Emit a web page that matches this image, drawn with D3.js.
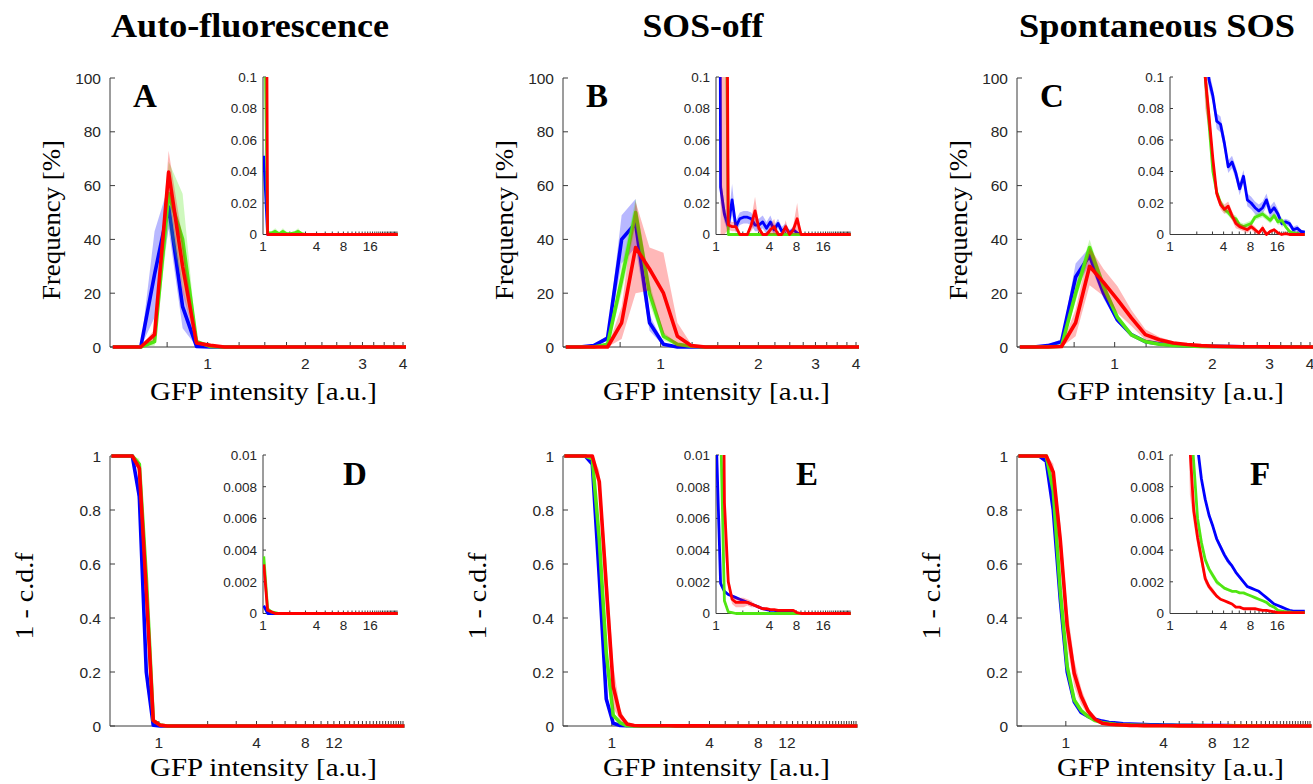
<!DOCTYPE html>
<html><head><meta charset="utf-8">
<script src="https://cdn.jsdelivr.net/npm/d3@7"></script>
<style>body{margin:0;background:#fff}</style>
</head><body>
<script>
// ---------------- DATA ----------------
const bins = [0.510,0.563,0.622,0.686,0.758,0.837,0.924,1.020,1.126,1.243,1.373,1.516,1.673,1.848,2.040,2.252,2.486,2.745,3.031,3.347,3.695,4.080,4.505,4.973,5.491,6.062,6.693,7.390,8.160,9.010,9.950,10.98,12.12,13.39,14.78,16.32,18.02,19.89,21.96,24.25,26.78,29.56,32.64];

const colTitles = ["Auto-fluorescence","SOS-off","Spontaneous SOS"];
const panelLetters = ["A","B","C","D","E","F"];
const seriesColors = ["#0000ff","#50e612","#ff0000"];

const topYTicks = [0,20,40,60,80,100];
const topYLabels = ["0","20","40","60","80","100"];
const topXTicks = [0.75,1,1.25,1.5,1.75,2,2.25,2.5,2.75,3,3.25,3.5,3.75,4];
const topXLabels = [1,2,3,4];
const botYTicks = [0,0.2,0.4,0.6,0.8,1];
const botYLabels = ["0","0.2","0.4","0.6","0.8","1"];
const botXLabels = [1,4,8,12];
const insetXLabels = [1,4,8,16];
const topInsetYTicks = [0,0.02,0.04,0.06,0.08,0.1];
const topInsetYLabels = ["0","0.02","0.04","0.06","0.08","0.1"];
const botInsetYTicks = [0,0.002,0.004,0.006,0.008,0.01];
const botInsetYLabels = ["0","0.002","0.004","0.006","0.008","0.01"];

// Panel A: frequency [%], auto-fluorescence
const aBlue = [0,0,0,27,52,15,0.25,0.05,0];
const aBlueErr = [0,0,0,16,8,8,0.1,0.01];
const aGreen = [0,0,0,2,57,40,2,0.2,0.001,0.001,0.002,0.0005,0.002,0.0005,0.0005,0.001,0.002,0.0005];
const aGreenErr = [0,0,0,1.5,12,17,1,0.1,0.001,0.001,0.002,0.001,0.002,0.001,0.001,0.001,0.002];
const aRed = [0,0,0,4.6,65,30,1.5,0.6];
const aRedErr = [0,0,0,2,8,10,0.5,0.2];

// Panel B: SOS-off
const bBlue = [0,0,0.5,3.3,40,46,9,1,0.03,0.013,0.005,0.022,0.005,0.01,0.011,0.011,0.01,0.006,0.006,0.008,0.004,0.008,0.003,0.007,0.002,0.004,0.001,0.003,0.001];
const bBlueErr = [0,0,0.3,1,9,9,3,0.5,0.01,0.005,0.004,0.01,0.004,0.004,0.004,0.004,0.004,0.004,0.004,0.004,0.004,0.004,0.003,0.003,0.003,0.003,0.002,0.002,0.001];
const bGreen = [0,0,0,1,25,50,20,4,1,0.3,0];
const bGreenErr = [0,0,0,0.5,5,5,4,1.5,0.5,0.1];
const bRed = [0,0,0,0,9,37,29,20,4,0.5,0.006,0.005,0.005,0,0,0,0.006,0.015,0.004,0,0,0.003,0.005,0,0,0.005,0,0.003,0.01,0];
const bRedErr = [0,0,0,0,6,17,8,15,5,0.5,0.003,0.003,0.003,0,0,0,0.004,0.009,0.003,0,0,0.003,0.005,0,0,0.004,0,0.003,0.01,0];

// Panel C: spontaneous SOS
const cBlue = [0,0,0.5,2,26,34,20,10,4.6,2,1.2,0.7,0.45,0.3,0.22,0.16,0.12,0.098,0.088,0.072,0.07,0.058,0.043,0.046,0.039,0.029,0.037,0.022,0.02,0.017,0.015,0.017,0.022,0.014,0.017,0.013,0.007,0.008,0.007,0.003,0.004,0.002,0.0015];
const cBlueErr = [0,0,0.3,1,5,3,2,1,0.5,0.3,0.2,0.1,0.05,0.03,0.02,0.01,0.008,0.006,0.005,0.005,0.005,0.005,0.004,0.004,0.004,0.004,0.004,0.004,0.004,0.004,0.004,0.004,0.004,0.004,0.004,0.003,0.002,0.002,0.002,0.002,0.002,0.001,0.001];
const cGreen = [0,0,0,0.3,20,37,22.5,11,4.5,2,1,0.6,0.4,0.25,0.17,0.12,0.1,0.07,0.04,0.027,0.02,0.016,0.014,0.011,0.01,0.006,0.005,0.006,0.007,0.011,0.012,0.013,0.011,0.009,0.012,0.008,0.009,0.005,0.002,0.001,0.0005,0,0];
const cGreenErr = [0,0,0,0.3,3,3,2,1,0.5,0.3,0.2,0.1,0.05,0.03,0.02,0.01,0.005,0.003,0.002,0.002,0.002,0.002,0.002,0.002,0.002,0.002,0.002,0.002,0.002,0.002,0.002,0.002,0.002,0.002,0.002,0.002,0.002,0.001,0.001];
const cRed = [0,0,0,0.2,9,30,24,17.6,10.8,4.6,2.7,1.5,0.9,0.5,0.3,0.18,0.1,0.075,0.048,0.026,0.019,0.016,0.018,0.012,0.007,0.005,0.004,0.003,0.005,0.003,0.001,0.004,0,0.002,0.003,0.001,0,0.0005];
const cRedErr = [0,0,0,0.2,5,7,5,5,3,2,1,0.6,0.3,0.15,0.08,0.04,0.02,0.01,0.005,0.003,0.003,0.003,0.003,0.003,0.003,0.002,0.002,0.002,0.002,0.002,0.001,0.002,0.001,0.001,0.001];

// Panel D: 1 - c.d.f, auto-fluorescence
const dBlue = [1,1,1,1,0.85,0.2,0.003,0.0005,0];
const dBlueErr = [0,0,0,0,0.05,0.05,0.002];
const dGreen = [1,1,1,1,0.97,0.55,0.02,0.0036,0.0003,0.0001,0.00005];
const dGreenErr = [0,0,0,0,0.02,0.03,0.01,0.0003];
const dRed = [1,1,1,1,0.955,0.5,0.02,0.0031,0.0002,0.0001];
const dRedErr = [0,0,0,0,0.02,0.03,0.01,0.0002];

// Panel E: 1 - c.d.f, SOS-off
const eBlue = [1,1,1,1,0.97,0.55,0.1,0.01,0.0019,0.0014,0.0012,0.0011,0.001,0.0009,0.0008,0.0007,0.0006,0.0005,0.0004,0.0003,0.00025,0.0002,0.0002,0.00015,0.0001,0.0001,0.0001,0.00005];
const eBlueErr = [0,0,0,0,0.01,0.03,0.02,0.003,0.0002,0.0001,0.0001,0.0001,0.0001];
const eGreen = [1,1,1,1,0.99,0.69,0.27,0.04,0.012,0.0008,0.0001,0.00005];
const eGreenErr = [0,0,0,0,0.005,0.03,0.03,0.01,0.003,0.0002];
const eRed = [1,1,1,1,1,0.905,0.52,0.146,0.04,0.007,0.002,0.0009,0.0007,0.0007,0.0007,0.0007,0.0006,0.0005,0.0004,0.0003,0.0003,0.00025,0.00025,0.0002,0.0002,0.0002,0.0002,0.0002,0.00005];
const eRedErr = [0,0,0,0,0.005,0.04,0.1,0.08,0.02,0.003,0.0004,0.0003,0.0003,0.0003,0.0003,0.0002,0.0002,0.0001,0.0001];

// Panel F: 1 - c.d.f, spontaneous SOS
const fBlue = [1,1,1,1,0.98,0.8,0.47,0.2,0.09,0.05,0.035,0.025,0.018,0.013,0.0105,0.0085,0.0072,0.0062,0.0055,0.0047,0.0042,0.0037,0.0033,0.003,0.0026,0.0023,0.002,0.0017,0.0016,0.0015,0.0014,0.0012,0.001,0.0008,0.0006,0.0005,0.0004,0.0003,0.0002,0.00015,0.00015,0.00015,0.00015];
const fBlueErr = [0,0,0,0,0.01,0.03,0.03,0.02,0.01,0.005,0.003,0.002,0.001,0.0006,0.0004,0.0003,0.0002,0.0002,0.0002,0.0002,0.0002,0.0002,0.0002,0.0001,0.0001,0.0001,0.0001,0.0001];
const fGreen = [1,1,1,1,1,0.87,0.5,0.22,0.096,0.057,0.035,0.02,0.013,0.0095,0.006,0.0045,0.0034,0.0028,0.0024,0.002,0.0018,0.0016,0.0015,0.0014,0.0014,0.0013,0.0013,0.0012,0.0011,0.001,0.0009,0.0008,0.0007,0.0005,0.0004,0.0002,0.00015,0.0001,0.0001,0.00005,0.00005,0.00005,0.00005];
const fGreenErr = [0,0,0,0,0.005,0.03,0.03,0.02,0.01,0.005,0.003,0.002,0.001,0.0005,0.0004,0.0003,0.0002,0.0002,0.0002,0.0002,0.0001,0.0001,0.0001,0.0001];
const fRed = [1,1,1,1,1,0.94,0.69,0.37,0.195,0.11,0.055,0.025,0.0105,0.0065,0.0048,0.0035,0.0022,0.0017,0.0014,0.0011,0.0009,0.0008,0.0007,0.0006,0.0004,0.0004,0.0003,0.0003,0.0003,0.0003,0.00025,0.0002,0.0002,0.00015,0.0001,0.00005,0.00005,0.00005,0.00005,0.00005,0.00005,0.00005,0.00005];
const fRedErr = [0,0,0,0,0.005,0.03,0.06,0.07,0.05,0.03,0.015,0.006,0.003,0.0008,0.0006,0.0005,0.0003,0.0002,0.0002,0.0001];

// ---------------- LAYOUT ----------------
const W = 1313, H = 784;
const colX = [110, 563, 1017];
const mainW = 293;
const rowY = [{top:78, bot:347}, {top:456, bot:726}];
const insetOff = 153, insetW = 134;
const insetY = [{top:77, bot:234.5}, {top:455, bot:613.5}];
const axisColor = "#3a3a3a", tickText = "#262626";
const sans = "'Liberation Sans', Arial, Helvetica, sans-serif";
const serif = "'Liberation Serif', 'Times New Roman', serif";

const panels = [
  {row:0,col:0,series:[[aBlue,aBlueErr],[aGreen,aGreenErr],[aRed,aRedErr]]},
  {row:0,col:1,series:[[bBlue,bBlueErr],[bGreen,bGreenErr],[bRed,bRedErr]]},
  {row:0,col:2,series:[[cBlue,cBlueErr],[cGreen,cGreenErr],[cRed,cRedErr]]},
  {row:1,col:0,series:[[dBlue,dBlueErr],[dGreen,dGreenErr],[dRed,dRedErr]]},
  {row:1,col:1,series:[[eBlue,eBlueErr],[eGreen,eGreenErr],[eRed,eRedErr]]},
  {row:1,col:2,series:[[fBlue,fBlueErr],[fGreen,fGreenErr],[fRed,fRedErr]]}
];

const svg = d3.select("body").append("svg").attr("width",W).attr("height",H)
  .style("background","#fff").style("display","block");
const defs = svg.append("defs");
let clipN = 0;

function val(arr,i){ return i < arr.length ? arr[i] : 0; }

function drawPlot(o) {
  const g = svg.append("g");
  const x = d3.scaleLog().base(2).domain(o.xDomain).range([o.x0, o.x0 + o.w]);
  const y = d3.scaleLinear().domain(o.yDomain).range([o.bot, o.top]);
  const tl = o.tickLen;
  g.append("line").attr("x1",o.x0).attr("x2",o.x0).attr("y1",o.top).attr("y2",o.bot)
    .attr("stroke",axisColor).attr("stroke-width",1);
  g.append("line").attr("x1",o.x0).attr("x2",o.x0+o.w).attr("y1",o.bot).attr("y2",o.bot)
    .attr("stroke",axisColor).attr("stroke-width",1);
  o.yTicks.forEach((t,i)=>{
    const yy = y(t);
    g.append("line").attr("x1",o.x0).attr("x2",o.x0+tl).attr("y1",yy).attr("y2",yy)
      .attr("stroke",axisColor).attr("stroke-width",1);
    g.append("text").attr("x",o.x0-o.yLabGap).attr("y",yy).attr("dy","0.36em")
      .attr("text-anchor","end").attr("font-family",sans).attr("font-size",o.fs)
      .attr("fill",tickText).text(o.yLabels[i]);
  });
  o.xTicks.forEach(t=>{
    const xx = x(t);
    g.append("line").attr("x1",xx).attr("x2",xx).attr("y1",o.bot).attr("y2",o.bot-tl)
      .attr("stroke",axisColor).attr("stroke-width",1);
  });
  o.xLabels.forEach(t=>{
    g.append("text").attr("x",x(t)).attr("y",o.bot+o.xLabGap)
      .attr("text-anchor","middle").attr("font-family",sans).attr("font-size",o.fs)
      .attr("fill",tickText).text(String(t));
  });
  const id = "clip" + (clipN++);
  defs.append("clipPath").attr("id",id).append("rect")
    .attr("x",o.x0).attr("y",o.top - o.padTop)
    .attr("width",o.w + 3).attr("height",o.bot - o.top + o.padTop + 3);
  const dg = g.append("g").attr("clip-path",`url(#${id})`);
  o.series.forEach((s,si)=>{
    const [mean, err] = s;
    const pts = bins.map((b,i)=>{
      const v = val(mean,i), e = val(err,i);
      return {b, v, lo: Math.max(0, v - e), hi: v + e};
    }).filter(o.filter);
    dg.append("path").datum(pts)
      .attr("d", d3.area().x(d=>x(d.b)).y0(d=>y(d.lo)).y1(d=>y(d.hi)))
      .attr("fill", seriesColors[si]).attr("fill-opacity",0.28).attr("stroke","none");
    dg.append("path").datum(pts)
      .attr("d", d3.line().x(d=>x(d.b)).y(d=>y(d.v)))
      .attr("fill","none").attr("stroke",seriesColors[si]).attr("stroke-width",o.lw)
      .attr("stroke-linejoin","round");
  });
}

const intTicks = d3.range(1, 33);

panels.forEach((p,pi)=>{
  const x0 = colX[p.col];
  const r = rowY[p.row];
  const ir = insetY[p.row];
  const top = p.row === 0;
  drawPlot({
    x0, w: mainW, top: r.top, bot: r.bot,
    xDomain: top ? [0.5,4] : [0.5,32],
    yDomain: top ? [0,100] : [0,1],
    yTicks: top ? topYTicks : botYTicks,
    yLabels: top ? topYLabels : botYLabels,
    xTicks: top ? topXTicks : intTicks,
    xLabels: top ? topXLabels : botXLabels,
    tickLen: 5, fs: 15.5, yLabGap: 9, xLabGap: 22,
    padTop: 3, lw: 3.6,
    filter: top ? (d=>d.b <= 4.6) : (d=>true),
    series: p.series
  });
  drawPlot({
    x0: x0 + insetOff, w: insetW, top: ir.top, bot: ir.bot,
    xDomain: [1,32],
    yDomain: top ? [0,0.1] : [0,0.01],
    yTicks: top ? topInsetYTicks : botInsetYTicks,
    yLabels: top ? topInsetYLabels : botInsetYLabels,
    xTicks: intTicks.slice(1),
    xLabels: insetXLabels,
    tickLen: 3, fs: 13.5, yLabGap: 6, xLabGap: 16,
    padTop: 0, lw: 2.8,
    filter: d=>d.b >= 1,
    series: p.series
  });
  const lx = top ? x0 + 23 : x0 + 233;
  const ly = top ? 107 : 485;
  svg.append("text").attr("x",lx).attr("y",ly).attr("font-family",serif)
    .attr("font-weight","bold").attr("font-size",33).attr("fill","#000").text(panelLetters[pi]);
  svg.append("text").attr("x",x0 + 153.5).attr("y", top ? 400 : 776)
    .attr("text-anchor","middle").attr("font-family",serif).attr("font-size",26)
    .attr("textLength",227).attr("lengthAdjust","spacingAndGlyphs")
    .attr("fill","#000").text("GFP intensity [a.u.]");
  if (top) {
    svg.append("text").attr("transform",`translate(${x0-50},${220}) rotate(-90)`)
      .attr("text-anchor","middle").attr("font-family",serif).attr("font-size",26)
      .attr("textLength",160).attr("lengthAdjust","spacingAndGlyphs")
      .attr("fill","#000").text("Frequency [%]");
  } else {
    svg.append("text").attr("transform",`translate(${x0-77},${596}) rotate(-90)`)
      .attr("text-anchor","middle").attr("font-family",serif).attr("font-size",26)
      .attr("textLength",87).attr("lengthAdjust","spacingAndGlyphs")
      .attr("fill","#000").text("1 - c.d.f");
  }
});

const titleLens = [278, 121, 276];
colTitles.forEach((t,i)=>{
  svg.append("text").attr("x",colX[i] + 140).attr("y",37)
    .attr("text-anchor","middle").attr("font-family",serif).attr("font-weight","bold")
    .attr("font-size",33).attr("textLength",titleLens[i]).attr("lengthAdjust","spacingAndGlyphs")
    .attr("fill","#000").text(t);
});
</script>
</body></html>
